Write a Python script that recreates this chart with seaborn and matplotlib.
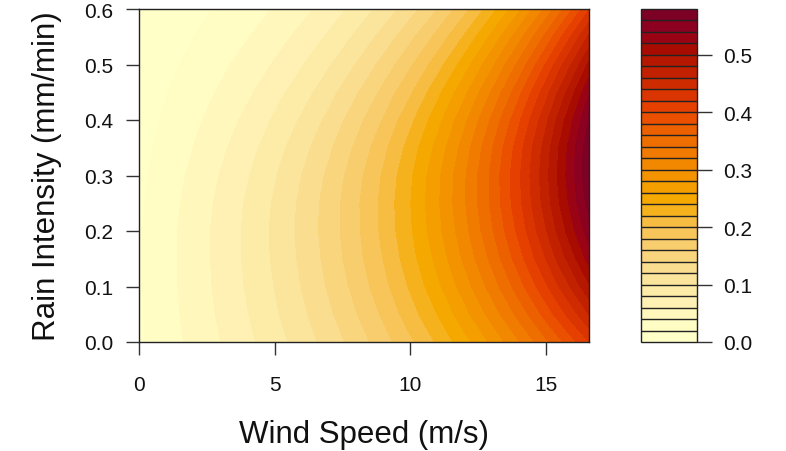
import numpy as np
import matplotlib
matplotlib.use("Agg")
import matplotlib.pyplot as plt
import seaborn as sns

# Grid of the fitted surface: wind speed (columns) x rain intensity (rows)
wind_speed = [0, 1, 2, 3, 4, 5, 6, 7, 8, 9, 10, 11, 12, 13, 14, 15, 16, 16.6]
rain_intensity = [0.00, 0.05, 0.10, 0.15, 0.20, 0.25, 0.30,
                  0.35, 0.40, 0.45, 0.50, 0.55, 0.60]

z_values = [
    [0.0168, 0.0310, 0.0452, 0.0598, 0.0751, 0.0915, 0.1090, 0.1280, 0.1486, 0.1712, 0.1960, 0.2229, 0.2524, 0.2838, 0.3182, 0.3553, 0.3949, 0.4200],
    [0.0174, 0.0324, 0.0473, 0.0628, 0.0791, 0.0967, 0.1156, 0.1361, 0.1585, 0.1832, 0.2104, 0.2401, 0.2727, 0.3076, 0.3460, 0.3875, 0.4320, 0.4604],
    [0.0179, 0.0332, 0.0487, 0.0650, 0.0821, 0.1005, 0.1206, 0.1424, 0.1665, 0.1930, 0.2224, 0.2546, 0.2900, 0.3283, 0.3704, 0.4161, 0.4655, 0.4969],
    [0.0180, 0.0336, 0.0494, 0.0661, 0.0838, 0.1030, 0.1238, 0.1468, 0.1721, 0.2002, 0.2314, 0.2657, 0.3037, 0.3449, 0.3903, 0.4399, 0.4936, 0.5280],
    [0.0177, 0.0332, 0.0492, 0.0662, 0.0842, 0.1038, 0.1252, 0.1489, 0.1752, 0.2045, 0.2370, 0.2730, 0.3130, 0.3567, 0.4050, 0.4578, 0.5153, 0.5522],
    [0.0168, 0.0318, 0.0475, 0.0644, 0.0825, 0.1024, 0.1242, 0.1484, 0.1755, 0.2055, 0.2390, 0.2762, 0.3176, 0.3633, 0.4137, 0.4692, 0.5297, 0.5687],
    [0.0154, 0.0295, 0.0444, 0.0608, 0.0784, 0.0981, 0.1199, 0.1441, 0.1716, 0.2021, 0.2363, 0.2744, 0.3170, 0.3640, 0.4160, 0.4733, 0.5360, 0.5766],
    [0.0137, 0.0265, 0.0402, 0.0556, 0.0724, 0.0913, 0.1124, 0.1362, 0.1634, 0.1938, 0.2279, 0.2662, 0.3092, 0.3572, 0.4102, 0.4688, 0.5332, 0.5749],
    [0.0117, 0.0229, 0.0353, 0.0493, 0.0649, 0.0826, 0.1026, 0.1253, 0.1516, 0.1811, 0.2145, 0.2522, 0.2948, 0.3427, 0.3957, 0.4547, 0.5197, 0.5620],
    [0.0097, 0.0193, 0.0300, 0.0424, 0.0564, 0.0725, 0.0910, 0.1122, 0.1370, 0.1650, 0.1969, 0.2333, 0.2745, 0.3213, 0.3734, 0.4316, 0.4961, 0.5382],
    [0.0078, 0.0156, 0.0247, 0.0354, 0.0476, 0.0619, 0.0785, 0.0978, 0.1206, 0.1465, 0.1764, 0.2106, 0.2497, 0.2947, 0.3447, 0.4010, 0.4638, 0.5049],
    [0.0060, 0.0123, 0.0197, 0.0286, 0.0390, 0.0513, 0.0659, 0.0829, 0.1034, 0.1268, 0.1542, 0.1857, 0.2220, 0.2642, 0.3114, 0.3648, 0.4248, 0.4642],
    [0.0045, 0.0093, 0.0152, 0.0224, 0.0310, 0.0414, 0.0537, 0.0685, 0.0864, 0.1071, 0.1314, 0.1598, 0.1928, 0.2315, 0.2751, 0.3248, 0.3810, 0.4182],
]

contour_levels = [round(0.02 * k, 2) for k in range(30)]   # 0.00 ... 0.58
x_ticks = [0, 5, 10, 15]
y_ticks = [0.0, 0.1, 0.2, 0.3, 0.4, 0.5, 0.6]
key_ticks = [0.0, 0.1, 0.2, 0.3, 0.4, 0.5]


def hcl_to_rgb(h, c, l):
    """Convert a polar CIE-LUV (HCL) colour to clipped sRGB."""
    xn, yn, zn = 95.047, 100.0, 108.883
    hr = np.radians(h)
    u_, v_ = c * np.cos(hr), c * np.sin(hr)
    if l <= 0:
        return (0.0, 0.0, 0.0)
    Y = yn * ((l + 16) / 116) ** 3 if l > 8 else yn * l / 903.3
    t = xn + yn + zn
    xw, yw = xn / t, yn / t
    un = 2 * xw / (6 * yw - xw + 1.5)
    vn = 4.5 * yw / (6 * yw - xw + 1.5)
    u = u_ / (13 * l) + un
    v = v_ / (13 * l) + vn
    X = 9.0 * Y * u / (4 * v)
    Z = -X / 3 - 5 * Y + 3 * Y / v
    X, Y, Z = X / 100, Y / 100, Z / 100
    r = 3.240479 * X - 1.537150 * Y - 0.498535 * Z
    g = -0.969256 * X + 1.875992 * Y + 0.041556 * Z
    b = 0.055648 * X - 0.204043 * Y + 1.057311 * Z

    def gam(a):
        a = a * 12.92 if a <= 0.0031308 else 1.055 * a ** (1 / 2.4) - 0.055
        return float(min(max(a, 0.0), 1.0))

    return (gam(r), gam(g), gam(b))


def ylorrd(n, h1=5, h2=85, c1=75, c2=40, l1=25, l2=99, p1=1.6, p2=1.3, cmax=180):
    """Sequential HCL yellow-orange-red palette, light to dark."""
    j = 1 / (1 + abs(cmax - c1) / abs(cmax - c2))
    cols = []
    for i in np.linspace(0, 1, n):
        hue = h2 - (h2 - h1) * i
        ip = i ** p1
        if ip <= j:
            chroma = c2 - (c2 - cmax) * ip / j
        else:
            chroma = cmax - (cmax - c1) * (ip - j) / (1 - j)
        lum = l2 - (l2 - l1) * i ** p2
        cols.append(hcl_to_rgb(hue, chroma, lum))
    return cols


sns.set_theme(style="ticks")
plt.rcParams["font.family"] = ["Liberation Sans", "DejaVu Sans"]

palette = ylorrd(len(contour_levels) - 1)

W, H = 786, 452
fig = plt.figure(figsize=(W / 100, H / 100), dpi=100)
ax = fig.add_axes([139 / W, (H - 343) / H, 450 / W, 333 / H])
cax = fig.add_axes([641 / W, (H - 343) / H, 56 / W, 333 / H])

cs = ax.contourf(np.array(wind_speed), np.array(rain_intensity), np.array(z_values),
                 levels=contour_levels, colors=palette)

ax.set_xlim(0, 16.6)
ax.set_ylim(0, 0.6)
ax.set_xticks(x_ticks)
ax.set_xticklabels([str(t) for t in x_ticks])
ax.set_yticks(y_ticks)
ax.set_yticklabels([f"{t:.1f}" for t in y_ticks])
ax.tick_params(axis="both", direction="out", length=9.5, width=1.0,
               color="#333333", labelsize=15, labelcolor="#111111")
ax.tick_params(axis="x", pad=14)
ax.tick_params(axis="y", pad=9)
for sp in ax.spines.values():
    sp.set_color("#222222")
    sp.set_linewidth(1.0)

ax.set_xlabel("Wind Speed (m/s)", fontsize=22.5, labelpad=18, color="#111111")
ax.set_ylabel("Rain Intensity (mm/min)", fontsize=22.5, labelpad=16, color="#111111")

cb = fig.colorbar(cs, cax=cax, drawedges=True)
cb.outline.set_edgecolor("#222222")
cb.outline.set_linewidth(1.0)
cb.dividers.set_color("#222222")
cb.dividers.set_linewidth(1.0)
cb.set_ticks(key_ticks)
cb.set_ticklabels([f"{t:.1f}" for t in key_ticks])
cax.tick_params(axis="y", direction="out", length=10.5, width=1.0, color="#333333",
                labelsize=15, labelcolor="#111111", pad=8)

fig.savefig("out.png", dpi=100)
